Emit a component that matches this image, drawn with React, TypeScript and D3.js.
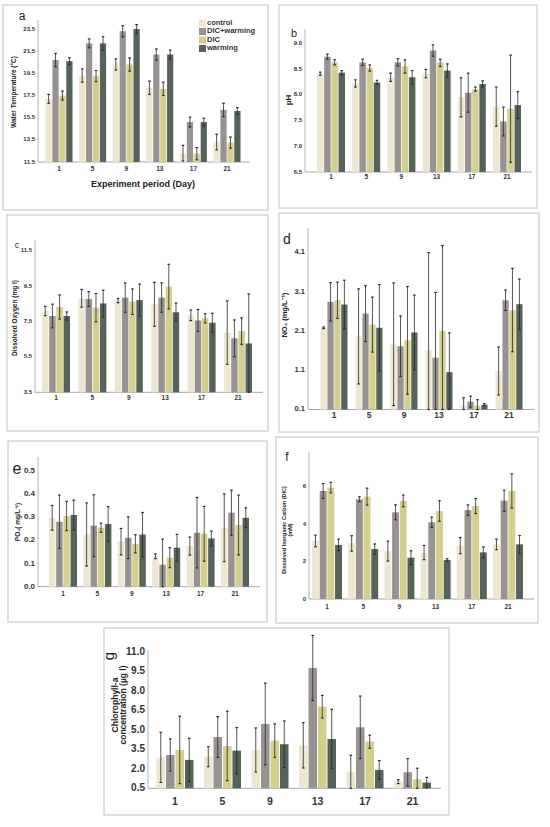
import * as d3 from "d3";

const days = ["1", "5", "9", "13", "17", "21"];
const groups = ["control", "DIC+warming", "DIC", "warming"];
const colors = ["#ede6d0", "#999292", "#d5cf8e", "#566359"];

// rows follow groups order: control, DIC+warming, DIC, warming
const tempMean = [
  [17.2, 19.3, 20.3, 18.2, 12.3, 13.3],
  [20.7, 22.2, 23.3, 21.2, 15.1, 16.2],
  [17.5, 19.25, 20.3, 18.1, 12.25, 13.25],
  [20.6, 22.2, 23.5, 21.2, 15.1, 16.1],
];
const tempErr = [
  [0.4, 0.6, 0.5, 0.6, 0.7, 0.7],
  [0.6, 0.4, 0.5, 0.5, 0.45, 0.6],
  [0.4, 0.5, 0.6, 0.6, 0.55, 0.5],
  [0.3, 0.6, 0.4, 0.4, 0.35, 0.3],
];

const phMean = [
  [8.41, 8.22, 8.34, 8.41, 7.95, 7.77],
  [8.74, 8.63, 8.63, 8.86, 8.04, 7.48],
  [8.63, 8.52, 8.55, 8.62, 8.11, 7.73],
  [8.43, 8.24, 8.34, 8.47, 8.21, 7.8],
];
const phErr = [
  [0.03, 0.07, 0.08, 0.08, 0.38, 0.38],
  [0.05, 0.06, 0.07, 0.11, 0.38, 0.28],
  [0.05, 0.06, 0.13, 0.07, 0.04, 1.04],
  [0.04, 0.04, 0.13, 0.13, 0.06, 0.26],
];

const doMean = [
  [8.09, 8.81, 8.68, 8.47, 7.85, 6.87],
  [7.81, 8.77, 8.85, 8.85, 7.56, 6.55],
  [8.32, 8.28, 8.62, 9.47, 7.68, 6.96],
  [7.81, 8.52, 8.71, 8.02, 7.43, 6.26],
];
const doErr = [
  [0.26, 0.5, 0.12, 1.24, 0.3, 1.79],
  [0.67, 0.42, 0.83, 0.83, 0.62, 1.04],
  [0.68, 0.8, 0.72, 1.26, 0.26, 0.75],
  [0.23, 0.75, 0.9, 0.52, 0.53, 2.8],
];

const no3Mean = [
  [2.18, 1.96, 1.76, 1.61, 0.2, 1.08],
  [2.84, 2.54, 1.71, 1.42, 0.3, 2.88],
  [2.88, 2.26, 1.86, 2.1, 0.2, 2.63],
  [2.77, 2.18, 2.06, 1.05, 0.22, 2.78],
];
const no3Err = [
  [0.02, 1.21, 1.56, 2.48, 0.2, 0.61],
  [0.49, 0.71, 0.77, 1.66, 0.14, 0.26],
  [0.46, 0.7, 1.37, 2.17, 0.15, 1.06],
  [0.62, 1.1, 0.95, 1.0, 0.03, 0.64],
];

const po4Mean = [
  [0.297, 0.225, 0.194, 0.131, 0.175, 0.254],
  [0.28, 0.263, 0.211, 0.095, 0.233, 0.319],
  [0.305, 0.254, 0.185, 0.125, 0.228, 0.266],
  [0.309, 0.27, 0.225, 0.168, 0.208, 0.297],
];
const po4Err = [
  [0.053, 0.136, 0.057, 0.01, 0.039, 0.146],
  [0.115, 0.133, 0.09, 0.11, 0.152, 0.097],
  [0.063, 0.02, 0.039, 0.043, 0.118, 0.129],
  [0.064, 0.075, 0.095, 0.058, 0.032, 0.043],
];

const dicMean = [
  [3.1, 2.97, 2.56, 2.48, 2.85, 2.92],
  [5.77, 5.33, 4.63, 4.1, 4.75, 5.25],
  [5.95, 5.47, 5.24, 4.7, 4.97, 5.77],
  [2.89, 2.67, 2.21, 2.08, 2.49, 2.92],
];
const dicErr = [
  [0.31, 0.41, 0.53, 0.38, 0.43, 0.28],
  [0.4, 0.13, 0.4, 0.27, 0.28, 0.56],
  [0.28, 0.45, 0.31, 0.55, 0.4, 0.91],
  [0.31, 0.27, 0.37, 0.07, 0.29, 0.47],
];

const chlMean = [
  [2.89, 2.94, 3.46, 3.82, 1.76, 1.01],
  [3.07, 4.46, 5.47, 9.79, 5.21, 1.74],
  [3.46, 3.77, 4.18, 6.8, 4.1, 1.19],
  [2.69, 3.41, 3.9, 4.31, 1.92, 0.94],
];
const chlErr = [
  [1.93, 0.77, 1.7, 1.75, 1.29, 0.15],
  [1.24, 1.57, 3.15, 2.51, 2.41, 1.05],
  [2.6, 2.68, 1.29, 0.87, 0.51, 0.86],
  [1.67, 1.78, 1.8, 2.29, 0.72, 0.4],
];

const tempTicks = [11.5, 13.5, 15.5, 17.5, 19.5, 21.5, 23.5];
const phTicks = [6.5, 7.0, 7.5, 8.0, 8.5, 9.0];
const doTicks = [3.5, 5.5, 7.5, 9.5, 11.5];
const no3Ticks = [0.1, 1.1, 2.1, 3.1, 4.1];
const po4Ticks = [0.0, 0.1, 0.2, 0.3, 0.4, 0.5];
const dicTicks = [0, 2, 4, 6];
const chlTicks = [0.5, 2.0, 3.5, 5.0, 6.5, 8.0, 9.5, 11.0];

const narrow = "'Liberation Sans Narrow', 'Arial Narrow', 'Liberation Sans', sans-serif";
const sans = "'Liberation Sans', Arial, sans-serif";

interface PanelSpec {
  frame: number[];
  axisX: number;
  axisTop: number;
  axisEnd: number;
  dom: [number, number];
  rng: [number, number];
  ticks: number[];
  fmt: string;
  tickSize: number;
  c0: number;
  step: number;
  groupW: number;
  catY: number;
  catSize: number;
  means: number[][];
  errs: number[][];
  letter: { text: string; x: number; y: number; size: number; rotate?: boolean };
  yTitle: { lines: string[]; x: number; y: number; size: number; gap?: number };
}

function Panel({ p }: { p: PanelSpec }) {
  const y = d3.scaleLinear().domain(p.dom).range(p.rng);
  const base = y(p.dom[0]);
  const pad = 1 - p.groupW / p.step;
  const x0 = p.c0 - p.step / 2;
  const x = d3.scaleBand<string>()
    .domain(days)
    .range([x0, x0 + p.step * days.length])
    .paddingInner(pad)
    .paddingOuter(pad / 2);
  const inner = d3.scaleBand<number>()
    .domain(d3.range(groups.length))
    .range([0, x.bandwidth()])
    .paddingInner(0.1);
  const fmt = d3.format(p.fmt);
  const [fx0, fy0, fx1, fy1] = p.frame;

  return (
    <g>
      <rect x={fx0} y={fy0} width={fx1 - fx0} height={fy1 - fy0} fill="#fff" stroke="#d6d6d6" strokeWidth={1.5} />
      {/* axes */}
      <line x1={p.axisX} x2={p.axisX} y1={p.axisTop} y2={base} stroke="#b5b5b5" strokeWidth={1} />
      <line x1={p.axisX} x2={p.axisEnd} y1={base} y2={base} stroke="#a8a8a8" strokeWidth={1} />
      {p.ticks.map((t) => (
        <text key={t} x={p.axisX - 3} y={y(t)} textAnchor="end" dominantBaseline="middle"
          fontFamily={narrow} fontWeight="bold" fontSize={p.tickSize} fill="#333">
          {fmt(t)}
        </text>
      ))}
      {days.map((d) => (
        <text key={d} x={(x(d) ?? 0) + x.bandwidth() / 2} y={p.catY} textAnchor="middle" dominantBaseline="middle"
          fontFamily={narrow} fontWeight="bold" fontSize={p.catSize} fill="#333">
          {d}
        </text>
      ))}
      {/* bars */}
      {p.means.map((row, gi) =>
        row.map((v, di) => {
          const bx = (x(days[di]) ?? 0) + (inner(gi) ?? 0);
          const bw = inner.bandwidth();
          const top = y(v);
          return (
            <rect key={`${gi}-${di}`} x={bx} y={top} width={bw} height={base - top} fill={colors[gi]} />
          );
        })
      )}
      {/* error bars */}
      {p.means.map((row, gi) =>
        row.map((v, di) => {
          const e = p.errs[gi][di];
          const cx = (x(days[di]) ?? 0) + (inner(gi) ?? 0) + inner.bandwidth() / 2;
          const hi = y(v + e);
          const lo = y(Math.max(v - e, p.dom[0]));
          return (
            <g key={`e${gi}-${di}`} stroke="#2a2a2a" strokeWidth={0.8}>
              <line x1={cx} x2={cx} y1={hi} y2={lo} />
              <line x1={cx - 1.3} x2={cx + 1.3} y1={hi} y2={hi} strokeWidth={1.2} />
              <line x1={cx - 1.3} x2={cx + 1.3} y1={lo} y2={lo} strokeWidth={1.2} />
            </g>
          );
        })
      )}
      {/* panel letter */}
      <text
        transform={`translate(${p.letter.x},${p.letter.y})${p.letter.rotate ? " rotate(-90)" : ""}`}
        textAnchor="middle" dominantBaseline="middle" fontFamily={sans} fontSize={p.letter.size} fill="#222">
        {p.letter.text}
      </text>
      {/* y title */}
      {p.yTitle.lines.map((line, i) => (
        <text key={i}
          transform={`translate(${p.yTitle.x + i * (p.yTitle.gap ?? 0)},${p.yTitle.y}) rotate(-90)`}
          textAnchor="middle" dominantBaseline="middle" fontFamily={sans} fontWeight="bold"
          fontSize={p.yTitle.size} fill="#222">
          {line}
        </text>
      ))}
    </g>
  );
}

const panels: PanelSpec[] = [
  {
    frame: [3, 5, 268, 210], axisX: 38, axisTop: 20, axisEnd: 250,
    dom: [11.5, 23.5], rng: [162, 29], ticks: tempTicks, fmt: ".1f", tickSize: 6,
    c0: 59, step: 33.6, groupW: 27, catY: 169, catSize: 6.5,
    means: tempMean, errs: tempErr,
    letter: { text: "a", x: 22, y: 17, size: 12 },
    yTitle: { lines: ["Water Temperature (°C)"], x: 14, y: 92, size: 6.5 },
  },
  {
    frame: [279, 5, 537, 208], axisX: 305, axisTop: 29, axisEnd: 532,
    dom: [6.5, 9.0], rng: [172, 43.3], ticks: phTicks, fmt: ".1f", tickSize: 6,
    c0: 331, step: 35.2, groupW: 28, catY: 177, catSize: 6.5,
    means: phMean, errs: phErr,
    letter: { text: "b", x: 294, y: 34, size: 11 },
    yTitle: { lines: ["pH"], x: 289, y: 100, size: 8 },
  },
  {
    frame: [7, 215, 268, 431], axisX: 35, axisTop: 240, axisEnd: 263,
    dom: [3.5, 11.5], rng: [392.3, 250.7], ticks: doTicks, fmt: ".1f", tickSize: 6,
    c0: 56, step: 36.4, groupW: 28, catY: 398, catSize: 6.5,
    means: doMean, errs: doErr,
    letter: { text: "c", x: 17, y: 246, size: 9 },
    yTitle: { lines: ["Dissolved Oxygen (mg l)"], x: 15, y: 318, size: 6.5 },
  },
  {
    frame: [279, 213, 539, 432], axisX: 308, axisTop: 228, axisEnd: 534,
    dom: [0.1, 4.1], rng: [409.5, 252.3], ticks: no3Ticks, fmt: ".1f", tickSize: 7.5,
    c0: 334, step: 35, groupW: 27, catY: 416, catSize: 8.5,
    means: no3Mean, errs: no3Err,
    letter: { text: "d", x: 287, y: 240, size: 14 },
    yTitle: { lines: ["NO₃  (mg/L⁻¹)"], x: 285, y: 315, size: 7.5 },
  },
  {
    frame: [8, 441, 267, 622], axisX: 38, axisTop: 457, axisEnd: 260,
    dom: [0, 0.5], rng: [586.7, 470.7], ticks: po4Ticks, fmt: ".1f", tickSize: 8,
    c0: 63, step: 34.4, groupW: 28, catY: 594, catSize: 6.5,
    means: po4Mean, errs: po4Err,
    letter: { text: "e", x: 17, y: 470, size: 16 },
    yTitle: { lines: ["PO₄( mg/L⁻¹)"], x: 18, y: 522, size: 6.5 },
  },
  {
    frame: [276, 437, 538, 623], axisX: 309, axisTop: 452, axisEnd: 534,
    dom: [0, 6], rng: [599, 486.7], ticks: dicTicks, fmt: "d", tickSize: 6,
    c0: 327, step: 36.2, groupW: 30, catY: 607, catSize: 6.5,
    means: dicMean, errs: dicErr,
    letter: { text: "f", x: 287, y: 458, size: 12 },
    yTitle: { lines: ["Dissolved Inorganic Carbon (DIC)", "(mM)"], x: 285, y: 530, size: 5.5, gap: 5.5 },
  },
  {
    frame: [104, 628, 449, 815], axisX: 148, axisTop: 650, axisEnd: 441,
    dom: [0.5, 11.0], rng: [788.3, 652.3], ticks: chlTicks, fmt: ".1f", tickSize: 10,
    c0: 175, step: 47.5, groupW: 37, catY: 802, catSize: 10.5,
    means: chlMean, errs: chlErr,
    letter: { text: "g", x: 110, y: 656, size: 15, rotate: true },
    yTitle: { lines: ["Chlorophyll-a", "concentration (µg l)"], x: 116, y: 705, size: 8.5, gap: 7.5 },
  },
];

function Legend() {
  const lx = 199;
  const ly = [23, 31.5, 40, 48.5];
  return (
    <g>
      {groups.map((g, i) => (
        <g key={g}>
          <rect x={lx} y={ly[i] - 3.5} width={7} height={7} fill={colors[i]} />
          <text x={lx + 8} y={ly[i]} dominantBaseline="middle" fontFamily={sans} fontWeight="bold"
            fontSize={7.5} fill="#333">
            {g}
          </text>
        </g>
      ))}
    </g>
  );
}

export default function App() {
  return (
    <svg width={550} height={827} viewBox="0 0 550 827"
      style={{ position: "absolute", left: 0, top: 0, background: "#fff" }}>
      <rect width={550} height={827} fill="#fff" />
      {panels.map((p, i) => (
        <Panel key={i} p={p} />
      ))}
      <Legend />
      <text x={143} y={185} textAnchor="middle" dominantBaseline="middle" fontFamily={sans}
        fontWeight="bold" fontSize={9} fill="#222">
        Experiment period (Day)
      </text>
    </svg>
  );
}
